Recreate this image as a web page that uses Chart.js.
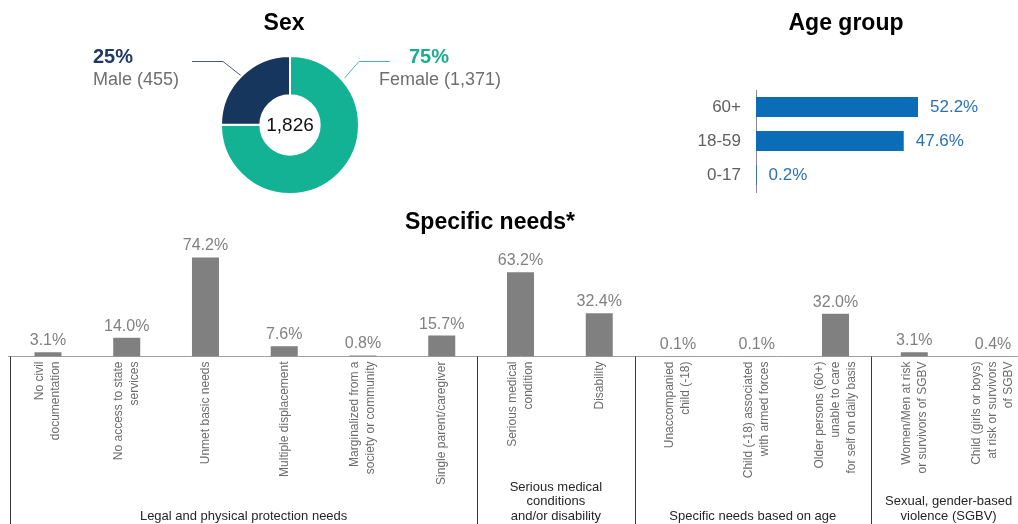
<!DOCTYPE html>
<html>
<head>
<meta charset="utf-8">
<script src="https://cdn.jsdelivr.net/npm/chart.js@4.4.0/dist/chart.umd.min.js"></script>
<style>
html, body { margin: 0; padding: 0; background: #ffffff; width: 1018px; height: 524px; overflow: hidden; }
#wrap { position: relative; width: 1018px; height: 524px; overflow: hidden; }
canvas { position: absolute; }
</style>
</head>
<body>
<div id="wrap">
  <canvas id="needs" width="1042" height="524" style="left:0;top:0;"></canvas>
  <canvas id="sex" width="520" height="200" style="left:0;top:0;"></canvas>
  <canvas id="age" width="378" height="200" style="left:640px;top:0;"></canvas>
</div>
<script>
// ---------- DATA ----------
const sexLabels = ['Female', 'Male'];
const sexCounts = [1371, 455];
const sexPercents = [75, 25];
const sexColors = ['#13b294', '#17365d'];

const ageLabels = ['60+', '18-59', '0-17'];
const ageValues = [52.2, 47.6, 0.2];

const needsLabels = [
  ['No civil', 'documentation'],
  ['No access to state', 'services'],
  ['Unmet basic needs'],
  ['Multiple displacement'],
  ['Marginalized from a', 'society or community'],
  ['Single parent/caregiver'],
  ['Serious medical', 'condition'],
  ['Disability'],
  ['Unaccompanied', 'child (-18)'],
  ['Child (-18) associated', 'with armed forces'],
  ['Older persons (60+)', 'unable to care', 'for self on daily basis'],
  ['Women/Men at risk', 'or survivors of SGBV'],
  ['Child (girls or boys)', 'at risk or survivors', 'of SGBV']
];
const needsValues = [3.1, 14.0, 74.2, 7.6, 0.8, 15.7, 63.2, 32.4, 0.1, 0.1, 32.0, 3.1, 0.4];
const groupLabels = [
  ['Legal and physical protection needs'],
  ['Serious medical', 'conditions', 'and/or disability'],
  ['Specific needs based on age'],
  ['Sexual, gender-based', 'violence (SGBV)']
];
const groupSizes = [6, 2, 3, 2];

const FONT = '"Liberation Sans", Arial, Helvetica, sans-serif';
Chart.defaults.font.family = FONT;
Chart.defaults.devicePixelRatio = 1;

// ---------- SEX (doughnut) ----------
const sexPlugin = {
  id: 'sexDecor',
  afterDraw(chart) {
    const ctx = chart.ctx;
    const arcs = chart.getDatasetMeta(0).data;
    const female = arcs[0], male = arcs[1];
    const cx = female.x, cy = female.y;
    const r = female.outerRadius + 1;
    ctx.save();
    // title
    ctx.fillStyle = '#000000';
    ctx.font = 'bold 23px ' + FONT;
    ctx.textAlign = 'center';
    ctx.textBaseline = 'alphabetic';
    ctx.fillText('Sex', 284, 30);
    // centre total
    const total = sexCounts.reduce((a, b) => a + b, 0);
    ctx.font = '19px ' + FONT;
    ctx.fillStyle = '#111111';
    ctx.textBaseline = 'middle';
    ctx.fillText(total.toLocaleString('en-US'), cx, cy + 1);
    // leader lines
    const mAng = (male.startAngle + male.endAngle) / 2;
    const mx = cx + r * Math.cos(mAng), my = cy + r * Math.sin(mAng);
    ctx.lineWidth = 1;
    ctx.strokeStyle = '#4b5b75';
    ctx.beginPath();
    ctx.moveTo(192, 61.5); ctx.lineTo(223, 61.5); ctx.lineTo(mx, my);
    ctx.stroke();
    const fAng = female.startAngle + 0.86;
    const fx = cx + (r + 2) * Math.cos(fAng), fy = cy + (r + 2) * Math.sin(fAng);
    ctx.strokeStyle = '#3dbfa3';
    ctx.beginPath();
    ctx.moveTo(fx, fy); ctx.lineTo(359, 61.5); ctx.lineTo(390, 61.5);
    ctx.stroke();
    // labels
    ctx.textAlign = 'left';
    ctx.textBaseline = 'alphabetic';
    ctx.font = 'bold 20px ' + FONT;
    ctx.fillStyle = '#1f3864';
    ctx.fillText(sexPercents[1] + '%', 93, 62.5);
    ctx.fillStyle = '#1aae8f';
    ctx.fillText(sexPercents[0] + '%', 409, 62.5);
    ctx.font = '18px ' + FONT;
    ctx.fillStyle = '#6f6f6f';
    ctx.fillText(sexLabels[1] + ' (' + sexCounts[1].toLocaleString('en-US') + ')', 93, 85);
    ctx.fillText(sexLabels[0] + ' (' + sexCounts[0].toLocaleString('en-US') + ')', 379, 85);
    ctx.restore();
  }
};

new Chart(document.getElementById('sex'), {
  type: 'doughnut',
  data: {
    labels: sexLabels,
    datasets: [{
      data: sexCounts,
      backgroundColor: sexColors,
      borderColor: '#ffffff',
      borderWidth: 2,
      hoverOffset: 0
    }]
  },
  options: {
    responsive: false,
    animation: false,
    events: [],
    radius: 69,
    cutout: '43%',
    layout: { padding: { left: 222, right: 162, top: 57, bottom: 7 } },
    plugins: { legend: { display: false }, tooltip: { enabled: false } }
  },
  plugins: [sexPlugin]
});

// ---------- AGE (horizontal bar) ----------
const agePlugin = {
  id: 'ageDecor',
  afterDraw(chart) {
    const ctx = chart.ctx;
    const area = chart.chartArea;
    const bars = chart.getDatasetMeta(0).data;
    ctx.save();
    ctx.fillStyle = '#000000';
    ctx.font = 'bold 23px ' + FONT;
    ctx.textAlign = 'center';
    ctx.textBaseline = 'alphabetic';
    ctx.fillText('Age group', 206, 30);
    ctx.font = '17px ' + FONT;
    ctx.textBaseline = 'middle';
    bars.forEach((bar, i) => {
      ctx.textAlign = 'right';
      ctx.fillStyle = '#5f5f5f';
      ctx.fillText(ageLabels[i], area.left - 15, bar.y);
      ctx.textAlign = 'left';
      ctx.fillStyle = '#2a72b3';
      ctx.fillText(ageValues[i].toFixed(1) + '%', bar.x + 12, bar.y);
    });
    ctx.restore();
  }
};

new Chart(document.getElementById('age'), {
  type: 'bar',
  data: {
    labels: ageLabels,
    datasets: [{
      data: ageValues,
      backgroundColor: '#0b6cb7',
      barPercentage: 0.59,
      categoryPercentage: 1
    }]
  },
  options: {
    indexAxis: 'y',
    responsive: false,
    animation: false,
    events: [],
    layout: { padding: { left: 116, right: 13.7, top: 90, bottom: 8 } },
    scales: {
      x: { display: false, min: 0, max: 80 },
      y: {
        display: true,
        ticks: { display: false },
        grid: { display: false, drawTicks: false },
        border: { display: true, color: '#8c8c8c', width: 1 }
      }
    },
    plugins: { legend: { display: false }, tooltip: { enabled: false } }
  },
  plugins: [agePlugin]
});

// ---------- SPECIFIC NEEDS (vertical bar) ----------
const needsPlugin = {
  id: 'needsDecor',
  afterDraw(chart) {
    const ctx = chart.ctx;
    const area = chart.chartArea;
    const xs = chart.scales.x;
    const bars = chart.getDatasetMeta(0).data;
    ctx.save();
    // title
    ctx.fillStyle = '#000000';
    ctx.font = 'bold 23px ' + FONT;
    ctx.textAlign = 'center';
    ctx.textBaseline = 'alphabetic';
    ctx.fillText('Specific needs*', 490, 229);
    // value labels
    ctx.font = '16px ' + FONT;
    ctx.fillStyle = '#808080';
    bars.forEach((bar, i) => {
      ctx.fillText(needsValues[i].toFixed(1) + '%', bar.x, bar.y - 7);
    });
    // rotated category labels
    ctx.font = '12px ' + FONT;
    ctx.fillStyle = '#6b6b6b';
    const lh = 16;
    needsLabels.forEach((lines, i) => {
      const x = xs.getPixelForValue(i);
      ctx.save();
      ctx.translate(x, area.bottom + 5);
      ctx.rotate(-Math.PI / 2);
      ctx.textAlign = 'right';
      ctx.textBaseline = 'middle';
      lines.forEach((t, j) => {
        ctx.fillText(t, 0, (j - (lines.length - 1) / 2) * lh);
      });
      ctx.restore();
    });
    // separators
    const bounds = [area.left + 1.5];
    let idx = 0;
    groupSizes.forEach((n) => {
      idx += n;
      if (idx < needsValues.length) {
        bounds.push((xs.getPixelForValue(idx - 1) + xs.getPixelForValue(idx)) / 2 - 4);
      }
    });
    ctx.strokeStyle = '#3a3a3a';
    ctx.lineWidth = 1;
    bounds.forEach(b => {
      const bx = Math.round(b) + 0.5;
      ctx.beginPath();
      ctx.moveTo(bx, area.bottom);
      ctx.lineTo(bx, 524);
      ctx.stroke();
    });
    bounds.push(area.right - 6);
    // group labels
    ctx.font = '13px ' + FONT;
    ctx.fillStyle = '#262626';
    ctx.textAlign = 'center';
    ctx.textBaseline = 'alphabetic';
    groupLabels.forEach((lines, g) => {
      const cxg = (bounds[g] + bounds[g + 1]) / 2;
      lines.forEach((t, j) => {
        ctx.fillText(t, cxg, 519.5 - (lines.length - 1 - j) * 14.2);
      });
    });
    ctx.restore();
  }
};

new Chart(document.getElementById('needs'), {
  type: 'bar',
  data: {
    labels: needsLabels.map(l => l.join(' ')),
    datasets: [{
      data: needsValues,
      backgroundColor: '#808080',
      barPercentage: 0.343,
      categoryPercentage: 1
    }]
  },
  options: {
    responsive: false,
    animation: false,
    events: [],
    layout: { padding: { left: 8.6, right: 9.6, top: 249.7, bottom: 167.5 } },
    scales: {
      x: {
        display: true,
        ticks: { display: false },
        grid: { display: false, drawTicks: false },
        border: { display: true, color: '#a0a0a0', width: 1 }
      },
      y: { display: false, min: 0, max: 80 }
    },
    plugins: { legend: { display: false }, tooltip: { enabled: false } }
  },
  plugins: [needsPlugin]
});
</script>
</body>
</html>
